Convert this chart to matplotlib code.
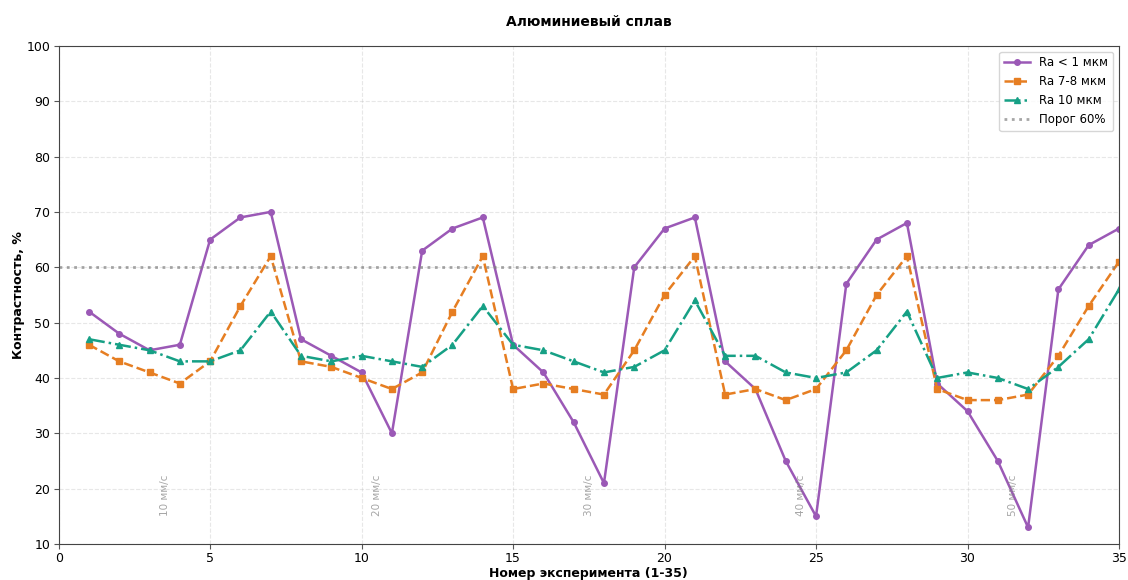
import numpy as np
from matplotlib import pyplot as plt

plt.rcParams['font.family'] = ['DejaVu Sans']

# данные
exp_n = np.arange(1, 36)
ra_lt1 = [52, 48, 45, 46, 65, 69, 70, 47, 44, 41, 30, 63, 67, 69, 46, 41, 32, 21,
          60, 67, 69, 43, 38, 25, 15, 57, 65, 68, 39, 34, 25, 13, 56, 64, 67]
ra_7_8 = [46, 43, 41, 39, 43, 53, 62, 43, 42, 40, 38, 41, 52, 62, 38, 39, 38, 37,
          45, 55, 62, 37, 38, 36, 38, 45, 55, 62, 38, 36, 36, 37, 44, 53, 61]
ra_10 = [47, 46, 45, 43, 43, 45, 52, 44, 43, 44, 43, 42, 46, 53, 46, 45, 43, 41,
         42, 45, 54, 44, 44, 41, 40, 41, 45, 52, 40, 41, 40, 38, 42, 47, 56]
threshold = 60
speed_x = [3.5, 10.5, 17.5, 24.5, 31.5]
speed_labels = ["10 мм/с", "20 мм/с", "30 мм/с", "40 мм/с", "50 мм/с"]

fig, ax = plt.subplots(figsize=(11.28, 5.8), dpi=100)

ax.plot(exp_n, ra_lt1, color="#9b59b6", lw=1.8, marker="o", ms=4, ls="-", label="Ra < 1 мкм")
ax.plot(exp_n, ra_7_8, color="#e67e22", lw=1.8, marker="s", ms=4, ls="--", label="Ra 7-8 мкм")
ax.plot(exp_n, ra_10, color="#16a085", lw=1.8, marker="^", ms=4, ls="-.", label="Ra 10 мкм")
ax.axhline(threshold, color="gray", ls=":", lw=2, alpha=0.7, label="Порог 60%")

for x, t in zip(speed_x, speed_labels):
    ax.text(x, 15, t, rotation=90, fontsize=7.5, color="gray", alpha=0.7,
            ha="center", va="bottom")

ax.set_xlim(0, 35)
ax.set_ylim(10, 100)
ax.set_title("Алюминиевый сплав", fontsize=10, fontweight="bold", pad=14)
ax.set_xlabel("Номер эксперимента (1-35)", fontsize=9, fontweight="bold", labelpad=1)
ax.set_ylabel("Контрастность, %", fontsize=9, fontweight="bold", labelpad=1)
ax.tick_params(labelsize=9, color="#555555", pad=2.5)
for sp in ax.spines.values():
    sp.set_color("#444444")
ax.grid(True, ls="--", alpha=0.3)
ax.legend(loc="upper right", fontsize=8.5, handlelength=2.2)

fig.subplots_adjust(left=0.052, right=0.992, top=0.921, bottom=0.062)
fig.savefig("out.png", dpi=100)
